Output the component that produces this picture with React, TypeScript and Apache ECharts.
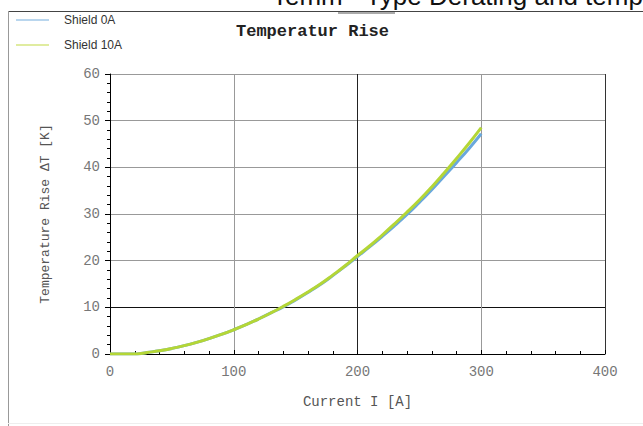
import React, { useEffect, useRef } from "react";
import * as echarts from "echarts";

const currents = [0, 10, 20, 25, 30, 40, 50, 60, 70, 80, 90, 100, 110, 120, 130, 140, 150, 160, 170, 180, 190, 200, 210, 220, 230, 240, 250, 260, 270, 280, 290, 300];
const shield0A = [0, 0, 0, 0.1, 0.3, 0.7, 1.2, 1.8, 2.5, 3.3, 4.2, 5.2, 6.3, 7.5, 8.8, 10.1, 11.6, 13.2, 14.9, 16.8, 18.8, 20.9, 23.0, 25.2, 27.5, 29.9, 32.5, 35.2, 38.1, 41.0, 44.0, 47.2];
const shield10A = [0, 0, 0, 0.1, 0.3, 0.7, 1.2, 1.8, 2.5, 3.3, 4.2, 5.2, 6.3, 7.5, 8.8, 10.2, 11.7, 13.3, 15.0, 16.9, 18.9, 21.1, 23.2, 25.5, 27.9, 30.4, 33.0, 35.8, 38.8, 41.9, 45.1, 48.5];
const xTicks = [0, 100, 200, 300, 400];
const yTicks = [0, 10, 20, 30, 40, 50, 60];

export default function App() {
  const ref = useRef<HTMLDivElement>(null);
  useEffect(() => {
    const chart = echarts.init(ref.current!, null, { renderer: "svg" });
    const mono = "'Liberation Mono', 'DejaVu Sans Mono', monospace";
    chart.setOption({
      animation: false,
      backgroundColor: "#fff",
      legend: {
        orient: "vertical",
        left: 11,
        top: 9,
        itemWidth: 33,
        itemHeight: 2,
        itemGap: 13,
        icon: "rect",
        data: [
          { name: "Shield 0A", itemStyle: { color: "#b9d6ee" } },
          { name: "Shield 10A", itemStyle: { color: "#e0eca0" } },
        ],
        textStyle: { fontFamily: "'Liberation Sans', Arial, sans-serif", fontSize: 12, color: "#333", padding: [0, 0, 0, 10] },
      },
      graphic: [
        {
          type: "text",
          left: 272,
          top: -17,
          style: { text: "Temm - Type Derating and temp", font: "26px 'Liberation Sans', Arial, sans-serif", fill: "#111" },
        },
        { type: "line", shape: { x1: 8, y1: 11.5, x2: 643, y2: 11.5 }, style: { stroke: "#444", lineWidth: 1 } },
        { type: "line", shape: { x1: 8.5, y1: 11, x2: 8.5, y2: 426 }, style: { stroke: "#999", lineWidth: 1 } },
        { type: "line", shape: { x1: 8, y1: 423.5, x2: 643, y2: 423.5 }, style: { stroke: "#eee", lineWidth: 1 } },
        { type: "line", shape: { x1: 338, y1: 13, x2: 395, y2: 13 }, style: { stroke: "#aaa", lineWidth: 2 } },
        {
          type: "text",
          left: 236,
          top: 23,
          style: { text: "Temperatur Rise", font: "bold 17px " + mono, fill: "#222" },
        },
      ],
      grid: { left: 110, right: 38, top: 74, bottom: 72 },
      xAxis: {
        type: "value",
        min: 0,
        max: 400,
        interval: 100,
        name: "Current I [A]",
        nameLocation: "middle",
        nameGap: 41,
        nameTextStyle: { fontFamily: mono, fontSize: 14, color: "#555" },
        axisLine: { onZero: false, lineStyle: { color: "#000", width: 1 } },
        axisTick: { show: true, length: 4, inside: true, lineStyle: { color: "#000" } },
        minorTick: { show: true, splitNumber: 5, length: 3, lineStyle: { color: "#000" } },
        axisLabel: {
          fontFamily: mono,
          fontSize: 14,
          color: "#777",
          margin: 11,
          formatter: (v: number) => (xTicks.includes(v) ? String(v) : ""),
        },
        splitLine: { show: true, lineStyle: { color: ["#000", "#999", "#222", "#999", "#333"], width: 1 } },
      },
      yAxis: {
        type: "value",
        min: 0,
        max: 60,
        interval: 10,
        name: "Temperature Rise \u0394T [K]",
        nameLocation: "middle",
        nameGap: 58,
        nameTextStyle: { fontFamily: mono, fontSize: 13, color: "#555" },
        axisLine: { show: true, lineStyle: { color: "#000", width: 1 } },
        axisTick: { show: true, length: 5, lineStyle: { color: "#000" } },
        minorTick: { show: true, splitNumber: 5, length: 3, lineStyle: { color: "#000" } },
        axisLabel: {
          fontFamily: mono,
          fontSize: 14,
          color: "#777",
          margin: 10,
          formatter: (v: number) => (yTicks.includes(v) ? String(v) : ""),
        },
        splitLine: { show: true, lineStyle: { color: ["#000", "#111", "#999", "#999", "#999", "#999", "#999"], width: 1 } },
      },
      series: [
        {
          name: "Shield 0A",
          type: "line",
          data: currents.map((c, i) => [c, shield0A[i]]),
          showSymbol: false,
          smooth: true,
          lineStyle: { color: "#6aa8dc", width: 3 },
          itemStyle: { color: "#b9d6ee" },
          z: 2,
        },
        {
          name: "Shield 10A",
          type: "line",
          data: currents.map((c, i) => [c, shield10A[i]]),
          showSymbol: false,
          smooth: true,
          lineStyle: { color: "#b4d636", width: 3 },
          itemStyle: { color: "#e0eca0" },
          z: 3,
        },
      ],
    });
    return () => chart.dispose();
  }, []);
  return <div ref={ref} style={{ width: 643, height: 426, position: "absolute", left: 0, top: 0 }} />;
}
